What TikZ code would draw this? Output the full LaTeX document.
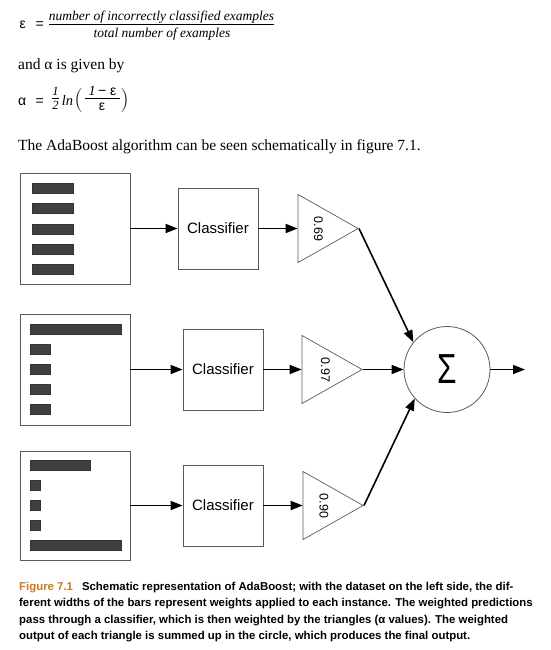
\documentclass[tikz,border=0pt]{standalone}
\usepackage{fontspec}
\setmainfont{Liberation Serif}
\newfontfamily\sansf{Liberation Sans}
\newfontfamily\lmrf{Latin Modern Roman}
\usepackage{graphicx}
\usetikzlibrary{arrows.meta,shapes.geometric}
\definecolor{figorange}{RGB}{200,122,30}
\definecolor{barfill}{RGB}{64,64,64}
\definecolor{edgegray}{RGB}{90,90,90}
\begin{document}
\begin{tikzpicture}[x=1pt,y=-1pt,
  databox/.style={draw=edgegray, line width=0.8pt, minimum width=110pt, inner sep=0pt},
  clsbox/.style={draw=edgegray, line width=0.8pt, minimum width=80pt, minimum height=81pt, inner sep=0pt,
    font=\sansf\fontsize{15}{18}\selectfont},
  tri/.style={draw=edgegray, line width=0.7pt, isosceles triangle, isosceles triangle stretches,
    minimum width=68pt, minimum height=60pt, inner sep=0pt, anchor=apex},
  wlab/.style={font=\sansf\fontsize{12.5}{14}\selectfont, inner sep=0pt},
  bar/.style={fill=barfill, draw=black!80, line width=0.5pt},
  conn/.style={line width=1.6pt, -{Triangle[length=12pt,width=9pt]}},
  body/.style={anchor=base west, inner sep=0pt, font=\fontsize{15.5}{18}\selectfont},
  frac/.style={anchor=base, inner sep=0pt, font=\itshape\fontsize{13.5}{16}\selectfont},
  greek/.style={anchor=base west, inner sep=0pt, font=\sansf\fontsize{14}{16}\selectfont},
  paren/.style={anchor=center, inner sep=0pt, font=\lmrf\fontsize{24}{26}\selectfont},
  capline/.style={anchor=base west, inner sep=0pt, font=\sansf\bfseries\fontsize{11.4}{13}\selectfont}
]
\useasboundingbox (0,0) rectangle (550,650);

% ---- formula 1
\node[greek] (eps1) at (19.5,28.5) {ε};
\node[greek] (eq1) at (35.5,28.5) {=};
\node[frac] (num1) at (161.5,20.5) {number of incorrectly classified examples};
\node[frac] (den1) at (162,37.5) {total number of examples};
\draw[line width=0.7pt] (49,24) -- (274,24);

% ---- text
\node[body] (t_and) at (18,70) {and α is given by};

% ---- formula 2
\node[greek] (alpha) at (18,106) {α};
\node[greek] (eq2) at (35.5,106) {=};
\node[frac, font=\itshape\fontsize{12.5}{14}\selectfont] (one) at (55.5,96) {1};
\node[frac, font=\itshape\fontsize{12.5}{14}\selectfont] (two) at (55.5,110) {2};
\draw[line width=0.5pt] (52,98.5) -- (59,98.5);
\node[frac, font=\itshape\fontsize{14.5}{16}\selectfont] (ln) at (67.5,106) {ln};
\node[paren] (lp) at (78.5,100.5) {(};
\node[anchor=base, inner sep=0pt] (num2) at (102.5,96) {\fontsize{14}{16}\selectfont\itshape 1\,\sansf\upshape − ε};
\node[greek, anchor=base] (den2) at (102,110.5) {ε};
\draw[line width=0.5pt] (85,98.5) -- (120,98.5);
\node[paren] (rp) at (124.5,100.5) {)};

\node[body] (t_the) at (18,150.5) {The AdaBoost algorithm can be seen schematically in figure 7.1.};

% ---- data boxes
\node[databox, minimum height=111pt] (d1) at (75,228.5) {};
\node[databox, minimum height=111pt] (d2) at (75,369.5) {};
\node[databox, minimum height=109pt] (d3) at (75,505.5) {};

% bars box 1
\foreach \y in {183,203,224,244,264} \draw[bar] (32,\y) rectangle (73,\y+10);
% bars box 2
\draw[bar] (30,324) rectangle (121,334);
\foreach \y in {344,364,384,404} \draw[bar] (30,\y) rectangle (50,\y+10);
% bars box 3
\draw[bar] (30,460) rectangle (90,470);
\foreach \y in {480,500,520} \draw[bar] (30,\y) rectangle (40,\y+10);
\draw[bar] (30,540) rectangle (121,550);

% ---- classifiers
\node[clsbox] (c1) at (218,228.5) {Classifier};
\node[clsbox] (c2) at (223,369.5) {Classifier};
\node[clsbox] (c3) at (223,505.5) {Classifier};

% ---- triangles
\node[tri] (t1) at (359,228.5) {};
\node[tri] (t2) at (363,369.5) {};
\node[tri] (t3) at (364,505.5) {};
\node[wlab] (w1) at (318.5,229) {\rotatebox{-90}{0.69}};
\node[wlab] (w2) at (325.5,370) {\rotatebox{-90}{0.97}};
\node[wlab] (w3) at (324,506) {\rotatebox{-90}{0.90}};

% ---- sum
\node[circle, draw=edgegray, line width=0.8pt, minimum size=86pt, inner sep=0pt,
  font=\sansf\fontsize{42}{44}\selectfont] (sum) at (447,369.5) {\scalebox{0.75}[1]{Σ}};
\coordinate (out) at (525,369.5);

% ---- connectors
\draw[conn] (d1.east) -- (c1.west);
\draw[conn] (d2.east) -- (c2.west);
\draw[conn] (d3.east) -- (c3.west);
\draw[conn] (c1.east) -- (t1.west);
\draw[conn] (c2.east) -- (t2.west);
\draw[conn] (c3.east) -- (t3.west);
\draw[conn] (t1.apex) -- (sum.141);
\draw[conn] (t2.apex) -- (sum.west);
\draw[conn] (t3.apex) -- (sum.222);
\draw[conn] (sum.east) -- (out);

% ---- caption
\node[capline] (cap1) at (19,590.5) {\textcolor{figorange}{Figure 7.1}\hspace{9pt}Schematic representation of AdaBoost; with the dataset on the left side, the dif-};
\node[capline] (cap2) at (19,606.8) {ferent widths of the bars represent weights applied to each instance. The weighted predictions};
\node[capline] (cap3) at (19,623) {pass through a classifier, which is then weighted by the triangles (α values). The weighted};
\node[capline] (cap4) at (19,639.3) {output of each triangle is summed up in the circle, which produces the final output.};
\end{tikzpicture}
\end{document}
